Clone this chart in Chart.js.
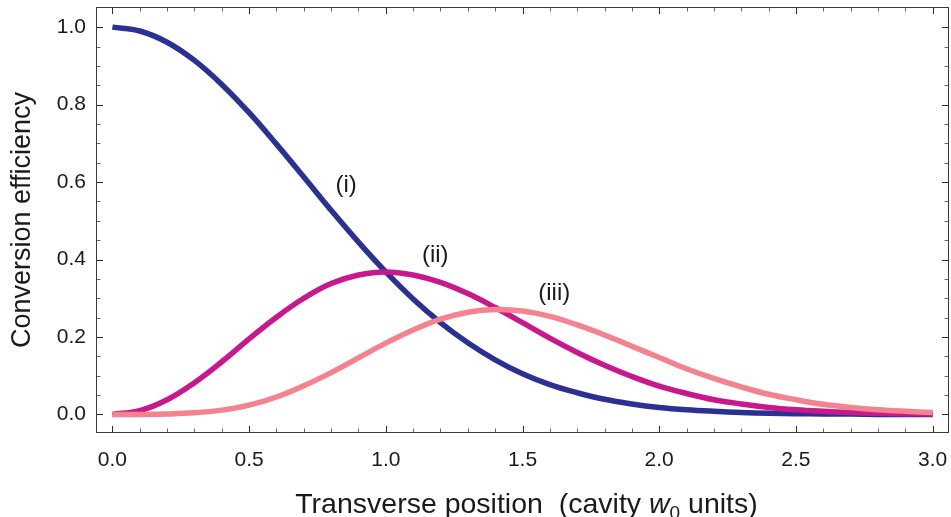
<!DOCTYPE html>
<html>
<head>
<meta charset="utf-8">
<script src="https://cdn.jsdelivr.net/npm/chart.js@4.4.1/dist/chart.umd.min.js"></script>
<style>
  html, body { margin: 0; padding: 0; background: #ffffff; }
  #wrap { width: 951px; height: 517px; position: relative; }
</style>
</head>
<body>
<div id="wrap"><canvas id="c" width="951" height="517"></canvas></div>
<script>
// Transverse position (cavity w0 units)
const positions = [0.0, 0.1, 0.2, 0.3, 0.4, 0.5, 0.6, 0.7, 0.8, 0.9,
                   1.0, 1.1, 1.2, 1.3, 1.4, 1.5, 1.6, 1.7, 1.8, 1.9,
                   2.0, 2.1, 2.2, 2.3, 2.4, 2.5, 2.6, 2.7, 2.8, 2.9, 3.0];

// Conversion efficiency, curve (i)
const effI = [1.000, 0.990, 0.961, 0.914, 0.852, 0.779, 0.698, 0.613, 0.527, 0.445,
              0.368, 0.298, 0.237, 0.185, 0.141, 0.105, 0.077, 0.056, 0.039, 0.027,
              0.018, 0.012, 0.008, 0.005, 0.003, 0.002, 0.001, 0.001, 0.000, 0.000, 0.000];

// Conversion efficiency, curve (ii)
const effII = [0.000, 0.010, 0.038, 0.082, 0.136, 0.195, 0.251, 0.300, 0.338, 0.360,
               0.368, 0.360, 0.341, 0.312, 0.276, 0.237, 0.197, 0.160, 0.127, 0.098,
               0.073, 0.054, 0.038, 0.027, 0.018, 0.012, 0.008, 0.005, 0.003, 0.002, 0.001];

// Conversion efficiency, curve (iii)
const effIII = [0.000, 0.000, 0.001, 0.004, 0.011, 0.024, 0.045, 0.074, 0.108, 0.146,
                0.184, 0.218, 0.246, 0.264, 0.271, 0.267, 0.253, 0.231, 0.205, 0.176,
                0.147, 0.118, 0.093, 0.071, 0.052, 0.038, 0.026, 0.018, 0.012, 0.008, 0.005];

// Axis ticks
const xTicks = [0.0, 0.5, 1.0, 1.5, 2.0, 2.5, 3.0];
const yTicks = [0.0, 0.2, 0.4, 0.6, 0.8, 1.0];
const xMinorStep = 0.1;
const yMinorStep = 0.05;

// Curve labels: text and anchor in data units
const curveLabels = ['(i)', '(ii)', '(iii)'];
const labelX = [0.855, 1.181, 1.616];
const labelY = [0.592, 0.411, 0.313];

const FONT = '"Liberation Sans", Arial, Helvetica, sans-serif';
const colI = '#2b3192';
const colII = '#c8198c';
const colIII = '#f4838f';

const toPoints = arr => positions.map((x, i) => ({ x: x, y: arr[i] }));

// Frame with inward major/minor ticks on all four sides
const framePlugin = {
  id: 'frame',
  afterDraw(chart) {
    const { ctx, chartArea: a, scales } = chart;
    const xs = scales.x, ys = scales.y;
    ctx.save();
    ctx.lineWidth = 1;
    // minor ticks
    ctx.strokeStyle = '#6a6a6a';
    ctx.beginPath();
    for (let k = 0; k <= 30; k++) {
      const v = k * xMinorStep;
      if (xTicks.some(t => Math.abs(t - v) < 1e-6)) continue;
      const px = Math.round(xs.getPixelForValue(v)) + 0.5;
      ctx.moveTo(px, a.bottom); ctx.lineTo(px, a.bottom - 4.5);
      ctx.moveTo(px, a.top); ctx.lineTo(px, a.top + 4.5);
    }
    for (let k = 0; k <= 20; k++) {
      const v = k * yMinorStep;
      if (yTicks.some(t => Math.abs(t - v) < 1e-6)) continue;
      const py = Math.round(ys.getPixelForValue(v)) + 0.5;
      ctx.moveTo(a.left, py); ctx.lineTo(a.left + 4.5, py);
      ctx.moveTo(a.right, py); ctx.lineTo(a.right - 4.5, py);
    }
    ctx.stroke();
    // major ticks
    ctx.strokeStyle = '#2a2a2a';
    ctx.beginPath();
    xTicks.forEach(v => {
      const px = Math.round(xs.getPixelForValue(v)) + 0.5;
      ctx.moveTo(px, a.bottom); ctx.lineTo(px, a.bottom - 7);
      ctx.moveTo(px, a.top); ctx.lineTo(px, a.top + 7);
    });
    yTicks.forEach(v => {
      const py = Math.round(ys.getPixelForValue(v)) + 0.5;
      ctx.moveTo(a.left, py); ctx.lineTo(a.left + 7, py);
      ctx.moveTo(a.right, py); ctx.lineTo(a.right - 7, py);
    });
    ctx.stroke();
    // frame
    ctx.strokeStyle = '#3a3a3a';
    ctx.strokeRect(Math.round(a.left) + 0.5, Math.round(a.top) + 0.5,
                   Math.round(a.right - a.left) - 1, Math.round(a.bottom - a.top) - 1);
    ctx.restore();
  }
};

// Curve labels and axis titles
const textPlugin = {
  id: 'texts',
  afterDraw(chart) {
    const { ctx, chartArea: a, scales } = chart;
    ctx.save();
    ctx.fillStyle = '#1a1a1a';
    ctx.textAlign = 'center';
    ctx.textBaseline = 'middle';
    ctx.font = '24px ' + FONT;
    curveLabels.forEach((t, i) => {
      ctx.fillText(t, scales.x.getPixelForValue(labelX[i]), scales.y.getPixelForValue(labelY[i]));
    });

    // y title
    ctx.save();
    ctx.translate(23, (a.top + a.bottom) / 2);
    ctx.rotate(-Math.PI / 2);
    ctx.font = '27px ' + FONT;
    ctx.fillText('Conversion efficiency', 0, 0);
    ctx.restore();

    // x title, with italic w and subscript 0
    const parts = [
      { t: 'Transverse position  (cavity ', f: '28.5px ' + FONT, dy: 0 },
      { t: 'w', f: 'italic 28.5px ' + FONT, dy: 0 },
      { t: '0', f: '19px ' + FONT, dy: 6 },
      { t: ' units)', f: '28.5px ' + FONT, dy: 0 }
    ];
    let total = 0;
    parts.forEach(p => { ctx.font = p.f; p.w = ctx.measureText(p.t).width; total += p.w; });
    let x = (a.left + a.right) / 2 + 4 - total / 2;
    const base = 513;
    ctx.textAlign = 'left';
    ctx.textBaseline = 'alphabetic';
    parts.forEach(p => {
      ctx.font = p.f;
      ctx.fillText(p.t, x, base + p.dy);
      x += p.w;
    });
    ctx.restore();
  }
};

new Chart(document.getElementById('c'), {
  type: 'line',
  data: {
    datasets: [
      { label: '(i)', data: toPoints(effI), borderColor: colI, order: 3 },
      { label: '(ii)', data: toPoints(effII), borderColor: colII, order: 2 },
      { label: '(iii)', data: toPoints(effIII), borderColor: colIII, order: 1 }
    ]
  },
  options: {
    responsive: false,
    animation: false,
    events: [],
    layout: { padding: { top: 7, right: 2, left: 0, bottom: 0 } },
    elements: {
      line: { borderWidth: 5.5, tension: 0.4, fill: false, borderCapStyle: 'butt', borderJoinStyle: 'round' },
      point: { radius: 0 }
    },
    plugins: { legend: { display: false }, tooltip: { enabled: false } },
    scales: {
      x: {
        type: 'linear',
        min: -0.06, max: 3.06,
        grid: { display: false, drawTicks: false },
        border: { display: false },
        afterBuildTicks: s => { s.ticks = xTicks.map(v => ({ value: v })); },
        afterFit: s => { s.height = 84; s.paddingLeft = 0; s.paddingRight = 0; },
        ticks: {
          padding: 15,
          color: '#1a1a1a',
          font: { family: FONT, size: 21 },
          maxRotation: 0,
          autoSkip: false,
          callback: v => Number(v).toFixed(1)
        }
      },
      y: {
        type: 'linear',
        min: -0.048, max: 1.052,
        grid: { display: false, drawTicks: false },
        border: { display: false },
        afterBuildTicks: s => { s.ticks = yTicks.map(v => ({ value: v })); },
        afterFit: s => { s.width = 96; s.paddingTop = 0; s.paddingBottom = 0; },
        ticks: {
          padding: 10,
          color: '#1a1a1a',
          font: { family: FONT, size: 21 },
          autoSkip: false,
          callback: v => Number(v).toFixed(1)
        }
      }
    }
  },
  plugins: [framePlugin, textPlugin]
});
</script>
</body>
</html>
